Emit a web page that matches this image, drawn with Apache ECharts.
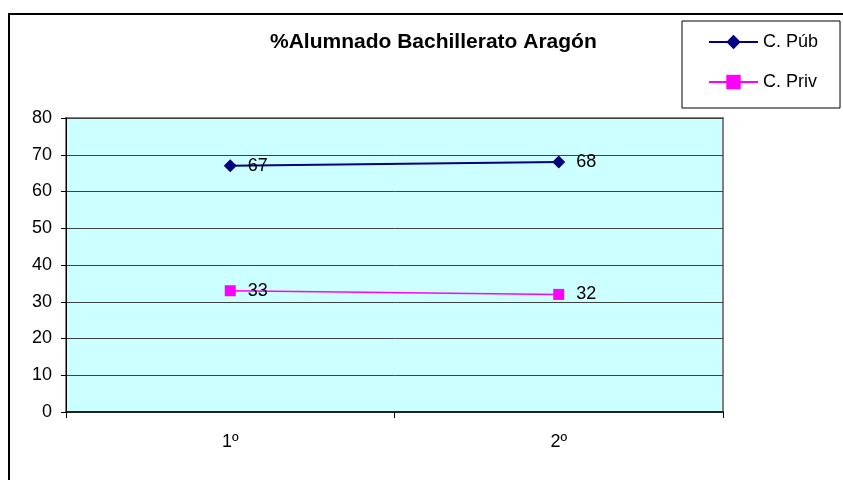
<!DOCTYPE html>
<html>
<head>
<meta charset="utf-8">
<script src="https://cdn.jsdelivr.net/npm/echarts@6/dist/echarts.min.js"></script>
<style>
html,body{margin:0;padding:0;background:#fff;}
#chart{width:843px;height:480px;}
</style>
</head>
<body>
<div id="chart"></div>
<script>
var categories = ['1º', '2º'];
var seriesNames = ['C. Púb', 'C. Priv'];
var publicValues = [67, 68];
var privateValues = [33, 32];
var titleText = '%Alumnado Bachillerato Aragón';

var chart = echarts.init(document.getElementById('chart'), null, {renderer: 'canvas'});
var font = 'Liberation Sans, Arial, sans-serif';
var option = {
  animation: false,
  backgroundColor: '#ffffff',
  textStyle: {fontFamily: font},
  title: {
    text: titleText,
    left: 270,
    top: 32,
    padding: 0,
    textStyle: {fontFamily: font, fontSize: 21, fontWeight: 'bold', color: '#000'}
  },
  legend: {
    orient: 'vertical',
    left: 682,
    top: 21,
    padding: [12, 22, 17, 26],
    itemWidth: 49,
    itemHeight: 18,
    itemGap: 22,
    borderColor: '#000',
    borderWidth: 1,
    backgroundColor: '#fff',
    textStyle: {fontFamily: font, fontSize: 18, color: '#000', lineHeight: 18},
    data: [
      {name: seriesNames[0], itemStyle: {color: '#000080'}},
      {name: seriesNames[1], itemStyle: {color: '#FF00FF'}}
    ]
  },
  grid: {
    left: 66, top: 118, right: 120, bottom: 68,
    show: true,
    backgroundColor: '#CCFFFF',
    borderColor: '#808080',
    borderWidth: 2
  },
  xAxis: {
    type: 'category',
    data: categories,
    boundaryGap: true,
    axisLine: {lineStyle: {color: '#222', width: 2}},
    axisTick: {show: true, length: 6, lineStyle: {color: '#000'}},
    axisLabel: {fontFamily: font, fontSize: 18, color: '#000', margin: 21},
    splitLine: {show: false}
  },
  yAxis: {
    type: 'value',
    min: 0, max: 80, interval: 10,
    axisLine: {show: true, lineStyle: {color: '#000', width: 1}},
    axisTick: {show: true, length: 5, lineStyle: {color: '#000'}},
    axisLabel: {fontFamily: font, fontSize: 18, color: '#000', margin: 14},
    splitLine: {show: true, lineStyle: {color: '#404040', width: 1}}
  },
  series: [
    {
      name: seriesNames[0],
      type: 'line',
      data: publicValues,
      symbol: 'diamond',
      symbolSize: 13,
      color: '#000080',
      lineStyle: {color: '#000080', width: 2},
      itemStyle: {color: '#000080'},
      label: {show: true, position: 'right', distance: 11, fontFamily: font, fontSize: 18, color: '#000'}
    },
    {
      name: seriesNames[1],
      type: 'line',
      data: privateValues,
      symbol: 'rect',
      symbolSize: 11,
      color: '#FF00FF',
      lineStyle: {color: '#FF00FF', width: 1.5},
      itemStyle: {color: '#FF00FF'},
      label: {show: true, position: 'right', distance: 12, fontFamily: font, fontSize: 18, color: '#000'}
    }
  ],
  graphic: [
    {
      type: 'rect',
      shape: {x: 9, y: 14, width: 900, height: 600},
      style: {fill: null, stroke: '#000', lineWidth: 2},
      silent: true,
      z: 100
    }
  ]
};
chart.setOption(option);
</script>
</body>
</html>
